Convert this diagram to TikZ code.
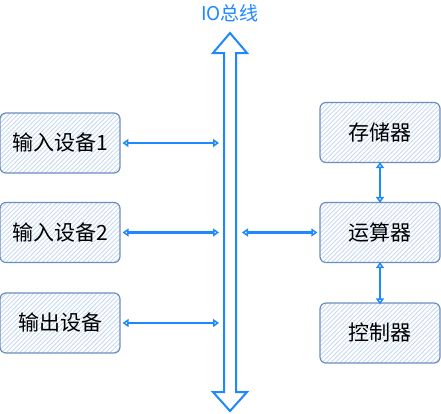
\documentclass[tikz,border=0pt]{standalone}
\usepackage{fontspec}
\newfontfamily\cjk{Noto Sans CJK SC}
\usetikzlibrary{arrows.meta, patterns.meta}
\definecolor{busblue}{HTML}{1E88FF}
\definecolor{boxline}{HTML}{6C8EBF}
\definecolor{hatch}{HTML}{C6D9F2}

\begin{document}
\begin{tikzpicture}[x=1pt, y=-1pt,
    box/.style={draw=boxline, line width=1.2pt, rounded corners=6pt,
        pattern={Lines[angle=45, distance=3.2pt, line width=0.9pt]}, pattern color=hatch,
        minimum width=120pt, minimum height=60pt,
        font=\cjk\fontsize{21}{23}\selectfont, text=black},
    link/.style={busblue, line width=2.2pt, {Triangle[open, length=6pt, width=8pt]}-{Triangle[open, length=6pt, width=8pt]}}]
        \useasboundingbox (0,0) rectangle (441,413);
        \pgfmathsetmacro{\busx}{230}
        \pgfmathsetmacro{\shaft}{6}
        \pgfmathsetmacro{\head}{17}

        % IO bus
        \node[text=busblue, font=\cjk\fontsize{19}{21}\selectfont] (title) at (\busx, 13) {IO总线};
        \draw[busblue, line width=2pt, line join=miter, fill=white]
        (\busx, 33) -- ({\busx+\head}, 53) -- ({\busx+\shaft}, 53) -- ({\busx+\shaft}, 392)
        -- ({\busx+\head}, 392) -- (\busx, 411) -- ({\busx-\head}, 392) -- ({\busx-\shaft}, 392)
        -- ({\busx-\shaft}, 53) -- ({\busx-\head}, 53) -- cycle;
        \coordinate (busleft) at (219, 0);
        \coordinate (busright) at (242, 0);

        % devices
        \node[box] (in1) at (60, 143) {输入设备1};
        \node[box] (in2) at (60, 232.5) {输入设备2};
        \node[box] (out) at (60, 323) {输出设备};
        \node[box] (mem) at (380, 132.5) {存储器};
        \node[box] (alu) at (380, 232.5) {运算器};
        \node[box] (ctrl) at (380, 333) {控制器};

        \foreach \d in {in1, in2, out} {
        \draw[link] ([xshift=2pt]\d.east) -- (\d.east -| busleft);
        }
        \draw[link] (alu.west -| busright) -- ([xshift=-2pt]alu.west);
        \draw[link] ([yshift=1pt]mem.south) -- ([yshift=-1pt]alu.north);
        \draw[link] ([yshift=1pt]alu.south) -- ([yshift=-2pt]ctrl.north);
    \end{tikzpicture}
\end{document}
